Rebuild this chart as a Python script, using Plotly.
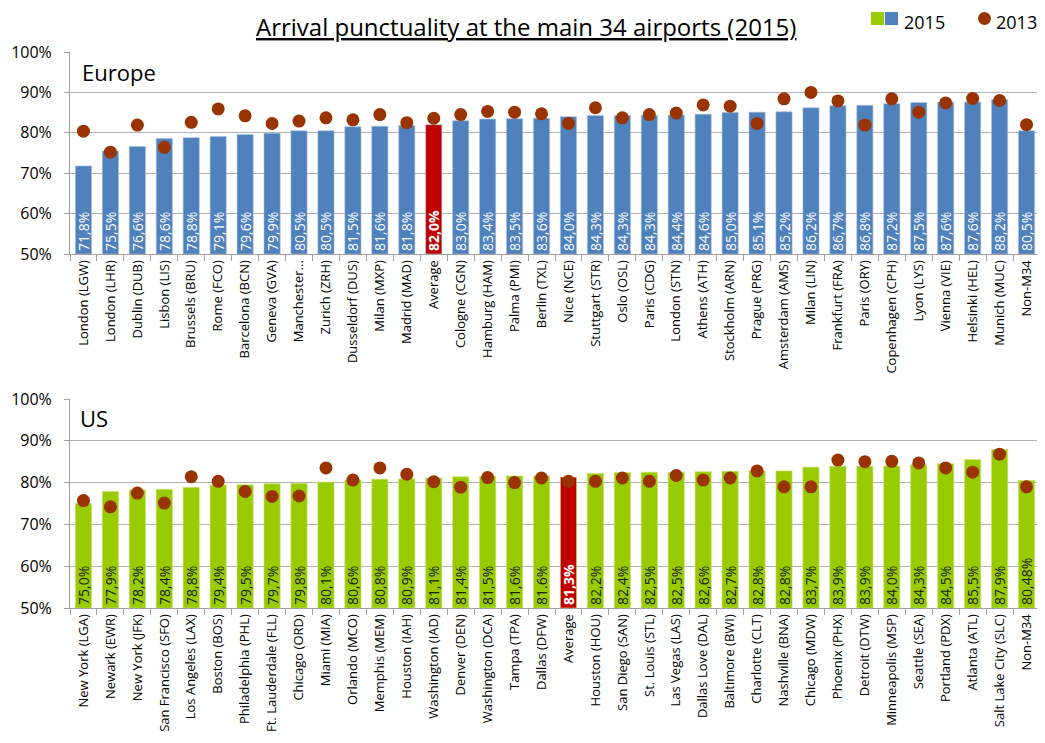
import plotly.graph_objects as go
from plotly.subplots import make_subplots

# Europe
eu_airports = ['London (LGW)', 'London (LHR)', 'Dublin (DUB)', 'Lisbon (LIS)', 'Brussels (BRU)',
               'Rome (FCO)', 'Barcelona (BCN)', 'Geneva (GVA)', 'Manchester...', 'Zurich (ZRH)',
               'Dusseldorf (DUS)', 'Milan (MXP)', 'Madrid (MAD)', 'Average', 'Cologne (CGN)',
               'Hamburg (HAM)', 'Palma (PMI)', 'Berlin (TXL)', 'Nice (NCE)', 'Stuttgart (STR)',
               'Oslo (OSL)', 'Paris (CDG)', 'London (STN)', 'Athens (ATH)', 'Stockholm (ARN)',
               'Prague (PRG)', 'Amsterdam (AMS)', 'Milan (LIN)', 'Frankfurt (FRA)', 'Paris (ORY)',
               'Copenhagen (CPH)', 'Lyon (LYS)', 'Vienna (VIE)', 'Helsinki (HEL)', 'Munich (MUC)',
               'Non-M34']
eu_2015 = [71.8, 75.5, 76.6, 78.6, 78.8, 79.1, 79.6, 79.9, 80.5, 80.5, 81.5, 81.6, 81.8, 82.0,
           83.0, 83.4, 83.5, 83.6, 84.0, 84.3, 84.3, 84.3, 84.4, 84.6, 85.0, 85.1, 85.2, 86.2,
           86.7, 86.8, 87.2, 87.5, 87.6, 87.6, 88.2, 80.5]
eu_2013 = [80.4, 75.2, 81.9, 76.4, 82.6, 85.9, 84.2, 82.3, 82.9, 83.7, 83.2, 84.5, 82.5, 83.6,
           84.5, 85.3, 85.1, 84.7, 82.3, 86.2, 83.7, 84.5, 84.9, 86.9, 86.6, 82.3, 88.4, 90.0,
           87.9, 81.9, 88.4, 85.1, 87.4, 88.5, 88.0, 82.0]

# US
us_airports = ['New York (LGA)', 'Newark (EWR)', 'New York (JFK)', 'San Francisco (SFO)',
               'Los Angeles (LAX)', 'Boston (BOS)', 'Philadelphia (PHL)', 'Ft. Lauderdale (FLL)',
               'Chicago (ORD)', 'Miami (MIA)', 'Orlando (MCO)', 'Memphis (MEM)', 'Houston (IAH)',
               'Washington (IAD)', 'Denver (DEN)', 'Washington (DCA)', 'Tampa (TPA)',
               'Dallas (DFW)', 'Average', 'Houston (HOU)', 'San Diego (SAN)', 'St. Louis (STL)',
               'Las Vegas (LAS)', 'Dallas Love (DAL)', 'Baltimore (BWI)', 'Charlotte (CLT)',
               'Nashville (BNA)', 'Chicago (MDW)', 'Phoenix (PHX)', 'Detroit (DTW)',
               'Minneapolis (MSP)', 'Seattle (SEA)', 'Portland (PDX)', 'Atlanta (ATL)',
               'Salt Lake City (SLC)', 'Non-M34']
us_2015 = [75.0, 77.9, 78.2, 78.4, 78.8, 79.4, 79.5, 79.7, 79.8, 80.1, 80.6, 80.8, 80.9, 81.1,
           81.4, 81.5, 81.6, 81.6, 81.3, 82.2, 82.4, 82.5, 82.5, 82.6, 82.7, 82.8, 82.8, 83.7,
           83.9, 83.9, 84.0, 84.3, 84.5, 85.5, 87.9, 80.48]
us_2013 = [75.7, 74.2, 77.5, 75.1, 81.4, 80.3, 77.9, 76.7, 76.8, 83.5, 80.6, 83.5, 82.0, 80.2,
           78.9, 81.2, 80.0, 81.1, 80.3, 80.3, 81.1, 80.3, 81.7, 80.6, 81.1, 82.8, 79.0, 79.0,
           85.4, 85.0, 85.1, 84.7, 83.5, 82.5, 86.8, 79.0]

BLUE = '#4F81BD'
GREEN = '#99CC00'
RED = '#C00000'
DOT = '#993300'
FONT = 'Open Sans'


def fmt(v):
    s = f"{v:.2f}" if round(v, 1) != v else f"{v:.1f}"
    return s.replace('.', ',') + '%'


def labels(names, vals):
    out = []
    for n, v in zip(names, vals):
        t = fmt(v)
        out.append(f"<b>{t}</b>" if n == 'Average' else t)
    return out


us_text = labels(us_airports, us_2015)
us_text[us_airports.index('Dallas (DFW)')] = '81.6%'

fig = make_subplots(rows=2, cols=1)

# Europe bars + 2013 dots
fig.add_trace(go.Bar(
    x=eu_airports, y=[v - 50 for v in eu_2015], base=50, name='2015', showlegend=False,
    marker=dict(color=[RED if n == 'Average' else BLUE for n in eu_airports],
                line=dict(color='#A9C1E0', width=0.6)),
    text=labels(eu_airports, eu_2015), textposition='inside', insidetextanchor='start',
    textangle=-90, textfont=dict(color='white', size=14, family=FONT),
), row=1, col=1)
fig.add_trace(go.Scatter(
    x=eu_airports, y=eu_2013, mode='markers', name='2013', showlegend=False,
    marker=dict(color=DOT, size=13),
), row=1, col=1)

# US bars + 2013 dots
fig.add_trace(go.Bar(
    x=us_airports, y=[v - 50 for v in us_2015], base=50, name='2015', showlegend=False,
    marker=dict(color=[RED if n == 'Average' else GREEN for n in us_airports],
                line=dict(color='#C4E36B', width=0.6)),
    text=us_text, textposition='inside', insidetextanchor='start',
    textangle=-90,
    textfont=dict(color=['white' if n == 'Average' else '#1A1A1A' for n in us_airports],
                  size=14, family=FONT),
), row=2, col=1)
fig.add_trace(go.Scatter(
    x=us_airports, y=us_2013, mode='markers', name='2013', showlegend=False,
    marker=dict(color=DOT, size=13),
), row=2, col=1)

# page body has an 8px margin, so lay out in (screen px - 8)
W, H = 1037, 735
px = lambda x: (x - 8) / W
py = lambda y: 1 - (y - 8) / H

axis_x = dict(domain=[px(70), px(1040)], range=[-0.5, 35.5], autorange=False,
              tickangle=-90, ticks='outside', tickson='boundaries',
              ticklen=6, tickcolor='#A0A0A0', showline=True, linecolor='#A0A0A0',
              showgrid=False, automargin=False,
              tickfont=dict(family=FONT, size=13, color='black'))
axis_y = dict(range=[50, 100], dtick=10, ticksuffix='%', showgrid=True, gridcolor='#B0B0B0',
              showline=True, linecolor='#A0A0A0', ticks='outside', ticklen=5,
              tickcolor='#A0A0A0', ticklabelstandoff=9, zeroline=False, automargin=False,
              tickfont=dict(family=FONT, size=16, color='black'))

fig.update_layout(
    width=W, height=H,
    margin=dict(l=0, r=0, t=0, b=0, autoexpand=False),
    plot_bgcolor='white', paper_bgcolor='white',
    bargap=0.4,
    showlegend=False,
    xaxis=dict(axis_x),
    xaxis2=dict(axis_x),
    yaxis=dict(axis_y, domain=[py(254), py(52)]),
    yaxis2=dict(axis_y, domain=[py(608), py(399)]),
    uniformtext=dict(minsize=14, mode='show'),
    font=dict(family=FONT),
)

fig.add_annotation(text='<u>Arrival punctuality at the main 34 airports (2015)</u>',
                   xref='paper', yref='paper', x=px(526), y=1,
                   xanchor='center', yanchor='top', showarrow=False,
                   font=dict(family=FONT, size=24, color='black'))
fig.add_annotation(text='Europe', xref='paper', yref='paper', x=px(80), y=py(72),
                   xanchor='left', yanchor='middle', showarrow=False,
                   font=dict(family=FONT, size=22, color='black'))
fig.add_annotation(text='US', xref='paper', yref='paper', x=px(78), y=py(418),
                   xanchor='left', yanchor='middle', showarrow=False,
                   font=dict(family=FONT, size=22, color='black'))

# legend keys
fig.add_shape(type='rect', xref='paper', yref='paper', x0=px(871), x1=px(884),
              y0=py(25), y1=py(12), fillcolor=GREEN, line_width=0)
fig.add_shape(type='rect', xref='paper', yref='paper', x0=px(885), x1=px(898),
              y0=py(25), y1=py(12), fillcolor=BLUE, line_width=0)
fig.add_shape(type='circle', xref='paper', yref='paper', x0=px(978), x1=px(991),
              y0=py(25), y1=py(12), fillcolor=DOT, line_width=0)
fig.add_annotation(text='2015', xref='paper', yref='paper', x=px(902), y=1,
                   xanchor='left', yanchor='top', showarrow=False,
                   font=dict(family=FONT, size=18, color='black'))
fig.add_annotation(text='2013', xref='paper', yref='paper', x=px(994), y=1,
                   xanchor='left', yanchor='top', showarrow=False,
                   font=dict(family=FONT, size=18, color='black'))

fig.write_html("out.html")
